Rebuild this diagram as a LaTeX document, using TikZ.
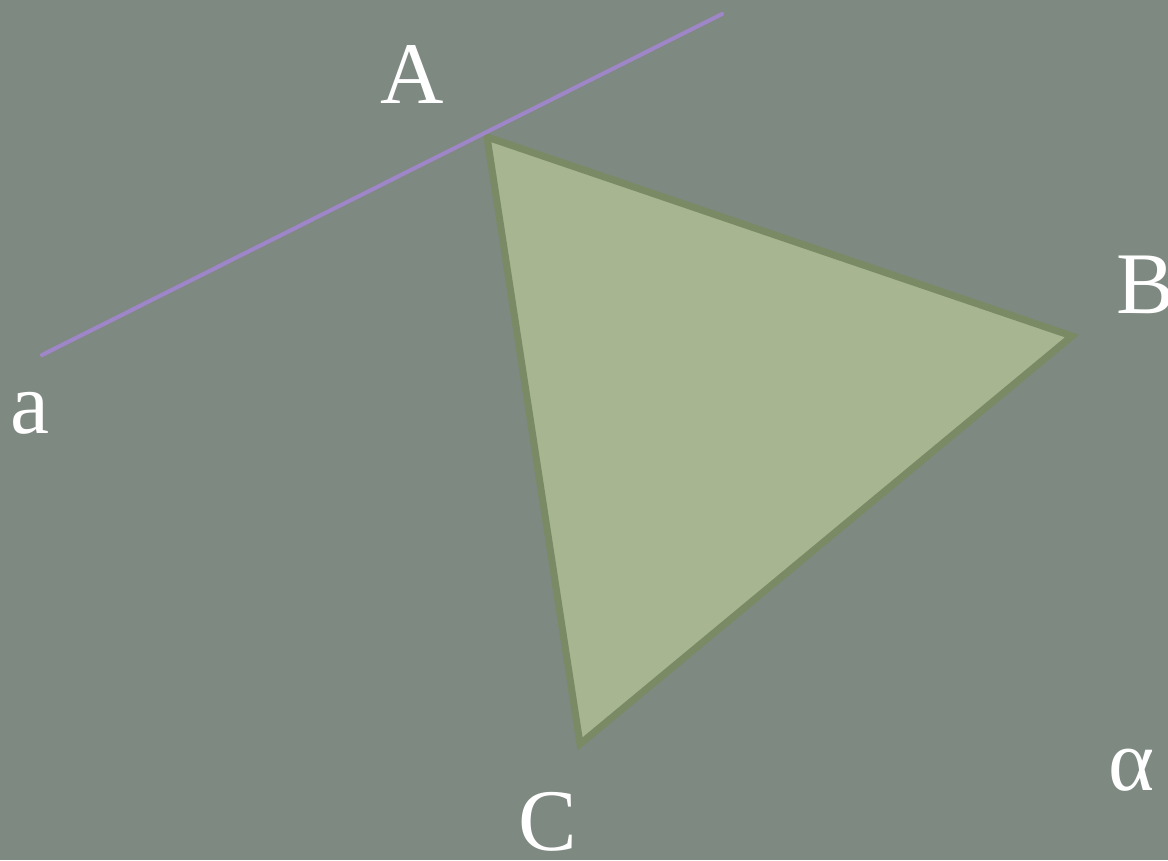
\documentclass[tikz,border=0pt]{standalone}
\usepackage{fontspec}
\setmainfont{Liberation Serif}
\definecolor{bg}{RGB}{126,137,129}
\definecolor{trifill}{RGB}{167,181,145}
\definecolor{tridraw}{RGB}{122,138,100}
\definecolor{lineviolet}{RGB}{158,134,200}
\begin{document}
\begin{tikzpicture}[x=0.02cm,y=-0.02cm,
  lbl/.style={text=white,font=\fontsize{50}{56}\selectfont,anchor=base,inner sep=0pt}]
\fill[bg] (0,0) rectangle (1168,860);
\useasboundingbox (0,0) rectangle (1168,860);
\coordinate (L1) at (42,355);
\coordinate (L2) at (722,14);
\coordinate (A) at (487,137);
\coordinate (B) at (1072,336);
\coordinate (C) at (580,744);
\filldraw[fill=trifill,draw=tridraw,line width=4pt,line join=miter] (A) -- (B) -- (C) -- cycle;
\draw[lineviolet,line width=2.3pt,line cap=round] (L1) -- (L2);
\node[lbl] (tA) at (412,103) {A};
\node[lbl] (tB) at (1146,313) {B};
\node[lbl] (ta) at (30,433) {a};
\node[lbl] (tC) at (548,850) {C};
\node[lbl] (tal) at (1131,790) {α};
\end{tikzpicture}
\end{document}
